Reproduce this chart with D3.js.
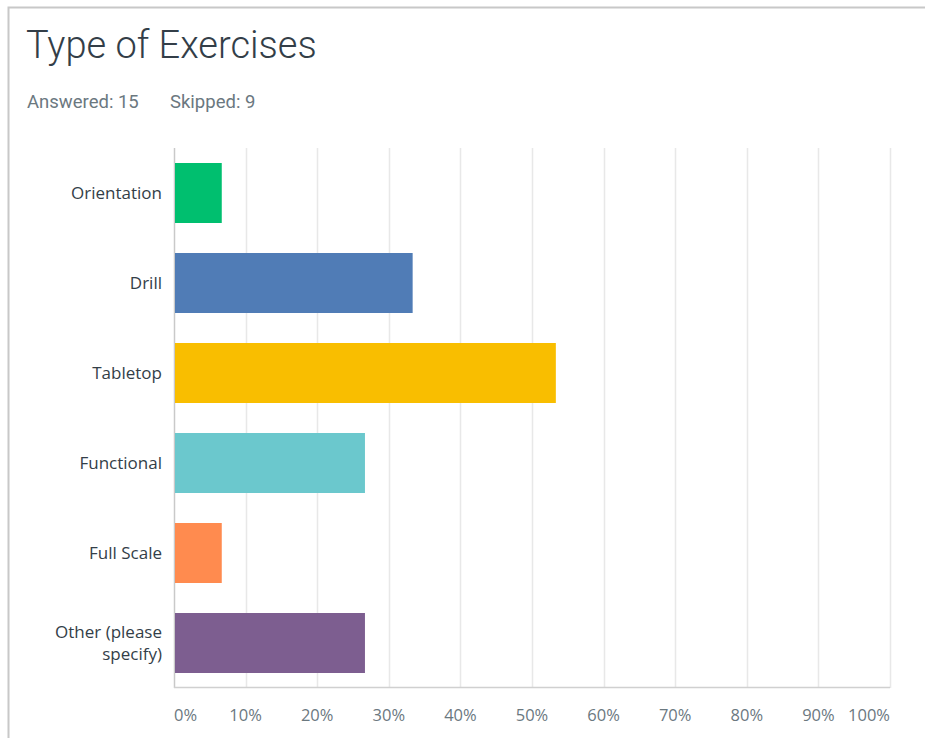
<!DOCTYPE html>
<html>
<head>
<meta charset="utf-8">
<script src="https://cdn.jsdelivr.net/npm/d3@7"></script>
<style>
body { margin: 0; background: #fff; }
</style>
</head>
<body>
<script>
var categories = ["Orientation", "Drill", "Tabletop", "Functional", "Full Scale", "Other (please specify)"];
var percents = [6.67, 33.33, 53.33, 26.67, 6.67, 26.67];
var colors = ["#00bf6f", "#507cb6", "#f9be00", "#6bc8cd", "#ff8b4f", "#7d5e90"];
var tickValues = [0, 10, 20, 30, 40, 50, 60, 70, 80, 90, 100];

var width = 925;
var height = 738;
var plotLeft = 174, plotRight = 890, plotTop = 148, plotBottom = 688;

var svg = d3.select("body").append("svg")
	.attr("width", width)
	.attr("height", height);

// card border
svg.append("path")
	.attr("d", "M925,7.5 H8.5 V738")
	.attr("fill", "none")
	.attr("stroke", "#c8c8c8")
	.attr("stroke-width", 2);

svg.append("text")
	.attr("x", 26)
	.attr("y", 58)
	.attr("font-family", "Roboto")
	.attr("font-weight", 300)
	.attr("font-size", "38px")
	.attr("fill", "#333e48")
	.text("Type of Exercises");

svg.append("text")
	.attr("x", 27)
	.attr("y", 108)
	.attr("font-family", "Roboto")
	.attr("font-size", "18.5px")
	.attr("fill", "#6b787f")
	.text("Answered: 15");

svg.append("text")
	.attr("x", 170)
	.attr("y", 108)
	.attr("font-family", "Roboto")
	.attr("font-size", "18.5px")
	.attr("fill", "#6b787f")
	.text("Skipped: 9");

var x = d3.scaleLinear().domain([0, 100]).range([plotLeft, plotRight]);
var y = d3.scaleBand().domain(categories).range([plotTop, plotBottom])
	.paddingInner(1/3).paddingOuter(1/6);

// gridlines
svg.selectAll("line.grid")
	.data(tickValues)
	.enter()
	.append("line")
	.attr("class", "grid")
	.attr("x1", function(d) { return Math.round(x(d)) + 0.5; })
	.attr("x2", function(d) { return Math.round(x(d)) + 0.5; })
	.attr("y1", plotTop)
	.attr("y2", plotBottom)
	.attr("stroke", function(d) { return d === 0 ? "#c9c9c9" : "#e8e8e8"; })
	.attr("stroke-width", 1.5);

svg.append("line")
	.attr("x1", plotLeft)
	.attr("x2", plotRight)
	.attr("y1", plotBottom - 0.5)
	.attr("y2", plotBottom - 0.5)
	.attr("stroke", "#d0d0d0")
	.attr("stroke-width", 1.5);

svg.selectAll("rect.bar")
	.data(percents)
	.enter()
	.append("rect")
	.attr("class", "bar")
	.attr("x", x(0) + 1)
	.attr("y", function(d, i) { return y(categories[i]); })
	.attr("width", function(d) { return x(d) - x(0) - 1; })
	.attr("height", y.bandwidth())
	.attr("fill", function(d, i) { return colors[i]; });

// category labels
var labels = svg.selectAll("text.cat")
	.data(categories)
	.enter()
	.append("text")
	.attr("class", "cat")
	.attr("text-anchor", "end")
	.attr("font-family", "Open Sans")
	.attr("font-size", "17px")
	.attr("fill", "#333e48");

labels.each(function(d) {
	var t = d3.select(this);
	var lines = d === "Other (please specify)" ? ["Other (please", "specify)"] : [d];
	var cy = y(d) + y.bandwidth() / 2;
	var start = cy - (lines.length - 1) * 11 + 6;
	lines.forEach(function(l, i) {
		t.append("tspan")
			.attr("x", 162)
			.attr("y", start + i * 22)
			.text(l);
	});
});

// x tick labels
svg.selectAll("text.tickl")
	.data(tickValues)
	.enter()
	.append("text")
	.attr("class", "tickl")
	.attr("x", function(d) { return x(d); })
	.attr("y", 721)
	.attr("text-anchor", function(d) { return d === 0 ? "start" : d === 100 ? "end" : "middle"; })
	.attr("font-family", "Open Sans")
	.attr("font-size", "16.5px")
	.attr("fill", "#6b787f")
	.text(function(d) { return d + "%"; });
</script>
</body>
</html>
